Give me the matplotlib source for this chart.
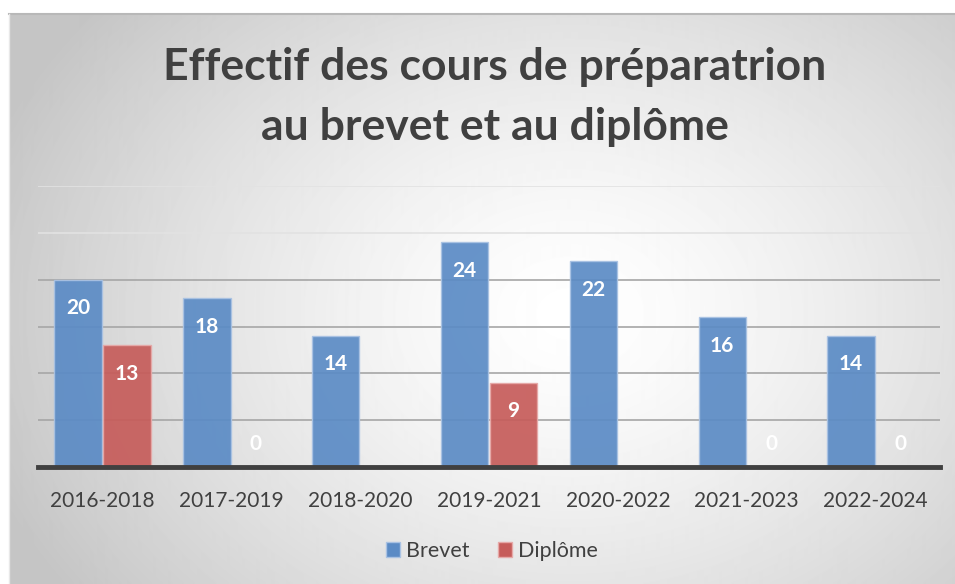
import numpy as np
import matplotlib.pyplot as plt
from matplotlib.patches import Rectangle

# data
periodes = ["2016-2018", "2017-2019", "2018-2020", "2019-2021", "2020-2022", "2021-2023", "2022-2024"]
brevet = [20, 18, 14, 24, 22, 16, 14]
diplome = [13, 0, None, 9, None, 0, 0]
titre = "Effectif des cours de préparatrion\nau brevet et au diplôme"

bleu = "#5b8bc5"
rouge = "#c65c5a"
plt.rcParams['font.family'] = ['Lato', 'DejaVu Sans']

W, H = 955, 584
fig = plt.figure(figsize=(W / 100, H / 100), dpi=100)
fig.patch.set_facecolor("white")

# background: radial gradient inside the chart box
bg = fig.add_axes([9 / W, 0, 1 - 9 / W, 1 - 14 / H])
yy, xx = np.mgrid[0:570, 0:946]
r = np.sqrt(((xx - 560) / 620.0) ** 2 + ((yy - 300) / 480.0) ** 2)
r = np.clip(r, 0, 1)
img = 1.0 - 0.23 * r ** 1.4
bg.imshow(img, cmap="gray", vmin=0, vmax=1, aspect="auto", interpolation="bilinear")
bg.set_axis_off()
fig.add_artist(plt.Line2D([9 / W, 1], [1 - 14 / H, 1 - 14 / H], color="#b8b8b8", lw=1.5,
                          transform=fig.transFigure))
fig.add_artist(plt.Line2D([9 / W, 9 / W], [0, 1 - 14 / H], color="#e8e8e8", lw=1,
                          transform=fig.transFigure))

ax = fig.add_axes([38 / W, (H - 467) / H, (940 - 38) / W, (467 - 186) / H])
ax.patch.set_alpha(0)
x = np.arange(len(periodes))
w = 0.368
off = 0.19

bd = [v if v is not None else 0 for v in diplome]
ax.bar(x - off, brevet, w, color=bleu, alpha=0.92, edgecolor="#a9c2e3", linewidth=1, zorder=3)
ax.bar(x + off, bd, w, color=rouge, alpha=0.92, edgecolor="#e6a9a8", linewidth=1, zorder=3)

for i, v in enumerate(brevet):
    ax.text(x[i] - off, v - 3.05, str(v), ha="center", va="center", color="white",
            fontsize=15, fontweight="bold", zorder=5)
for i, v in enumerate(diplome):
    if v is None:
        continue
    y = v - 3.05 if v > 0 else 2.45
    ax.text(x[i] + off, y, str(v), ha="center", va="center", color="white",
            fontsize=15, fontweight="bold", zorder=5)

ax.set_xlim(-0.5, len(periodes) - 0.5)
ax.set_ylim(0, 30)
ax.set_yticks(np.arange(5, 31, 5))
ax.yaxis.grid(True, color="#a6a6a6", linewidth=1.2, zorder=1)
for gl, t in zip(ax.get_ygridlines(), ax.get_yticks()):
    if t >= 25:
        gl.set_color("#e2e2e2")
ax.tick_params(axis="y", left=False, labelleft=False)
ax.set_xticks(x)
ax.set_xticklabels(periodes, fontsize=15, color="#404040")
ax.tick_params(axis="x", length=0, pad=17)
for s in ["top", "right", "left"]:
    ax.spines[s].set_visible(False)
ax.spines["bottom"].set_color("#404040")
ax.spines["bottom"].set_linewidth(3.5)
ax.spines["bottom"].set_zorder(6)

fig.text(495 / W, 1 - 97 / H, titre, ha="center", va="center", fontsize=32,
         fontweight="bold", color="#404040", linespacing=1.58)

handles = [Rectangle((0, 0), 1, 1, facecolor=bleu, edgecolor="#a9c2e3"),
           Rectangle((0, 0), 1, 1, facecolor=rouge, edgecolor="#e6a9a8")]
fig.legend(handles, ["Brevet", "Diplôme"], loc="center", bbox_to_anchor=(492 / W, 1 - 551 / H),
           ncol=2, frameon=False, fontsize=15.5, handlelength=0.65, handleheight=0.65,
           handletextpad=0.3, columnspacing=1.3, labelcolor="#404040")

fig.savefig("out.png", dpi=100)
